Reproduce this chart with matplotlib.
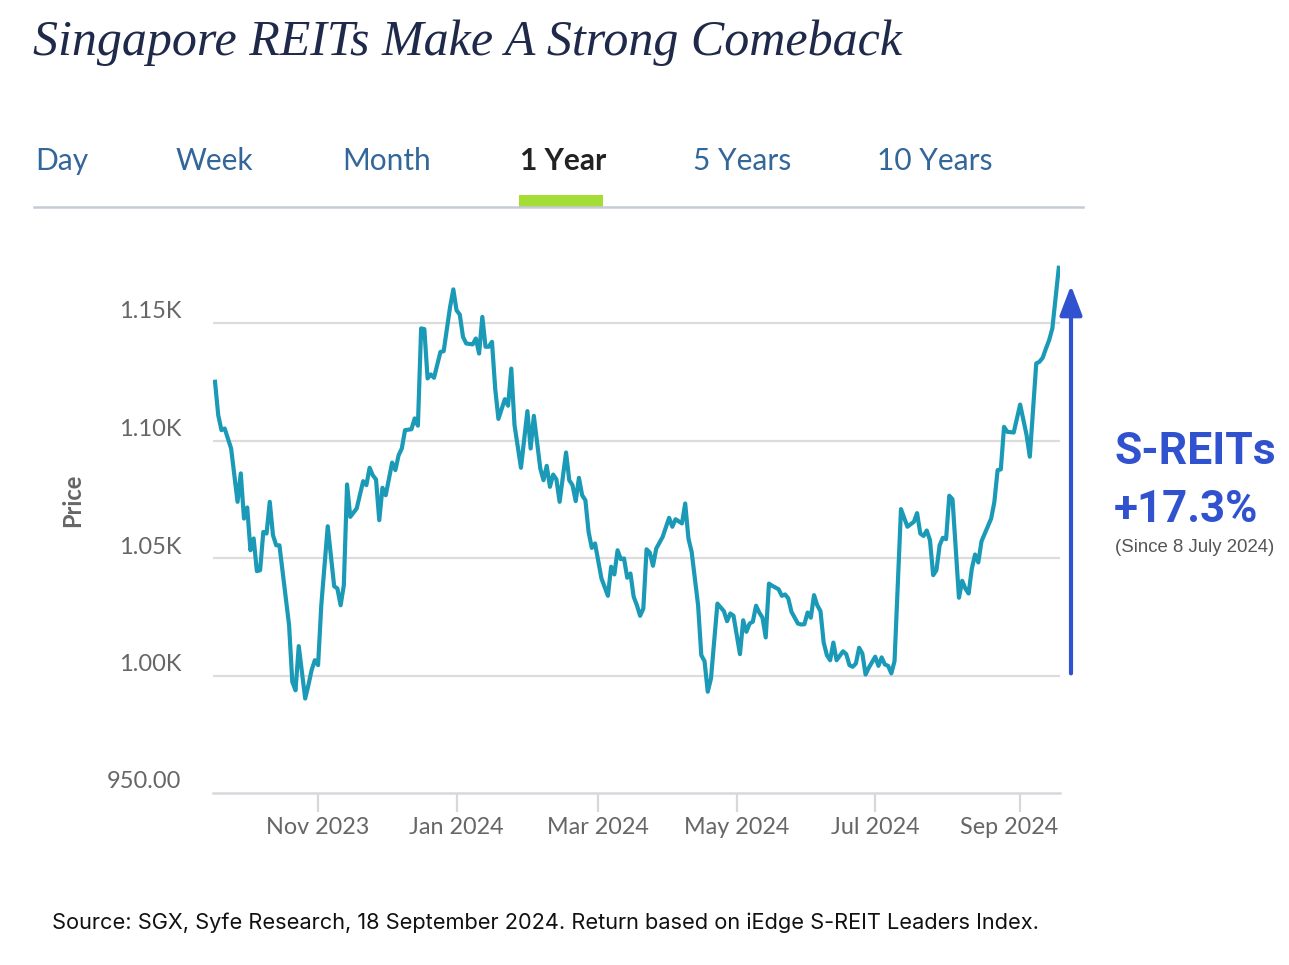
import numpy as np
import pandas as pd
import matplotlib
matplotlib.use('Agg')
import matplotlib.pyplot as plt
from matplotlib.transforms import ScaledTranslation, blended_transform_factory

# iEdge S-REIT Leaders Index
dates = [
    '2023-09-18', '2023-09-19', '2023-09-20', '2023-09-21', '2023-09-25', '2023-09-27', '2023-09-28', '2023-09-29',
    '2023-10-02', '2023-10-03', '2023-10-04', '2023-10-05', '2023-10-06', '2023-10-09', '2023-10-10', '2023-10-11',
    '2023-10-12', '2023-10-13', '2023-10-16', '2023-10-18', '2023-10-19', '2023-10-20', '2023-10-23', '2023-10-24',
    '2023-10-26', '2023-10-27', '2023-10-30', '2023-10-31', '2023-11-01', '2023-11-02', '2023-11-06', '2023-11-08',
    '2023-11-09', '2023-11-10', '2023-11-13', '2023-11-14', '2023-11-15', '2023-11-17', '2023-11-21', '2023-11-22',
    '2023-11-23', '2023-11-24', '2023-11-27', '2023-11-28', '2023-11-29', '2023-11-30', '2023-12-04', '2023-12-05',
    '2023-12-06', '2023-12-07', '2023-12-08', '2023-12-12', '2023-12-13', '2023-12-14', '2023-12-15', '2023-12-18',
    '2023-12-19', '2023-12-20', '2023-12-21', '2023-12-25', '2023-12-26', '2023-12-28', '2023-12-29', '2024-01-01',
    '2024-01-02', '2024-01-03', '2024-01-04', '2024-01-08', '2024-01-09', '2024-01-10', '2024-01-11', '2024-01-12',
    '2024-01-15', '2024-01-16', '2024-01-17', '2024-01-18', '2024-01-22', '2024-01-23', '2024-01-24', '2024-01-25',
    '2024-01-29', '2024-01-31', '2024-02-01', '2024-02-02', '2024-02-06', '2024-02-07', '2024-02-08', '2024-02-09',
    '2024-02-12', '2024-02-13', '2024-02-14', '2024-02-16', '2024-02-19', '2024-02-20', '2024-02-21', '2024-02-22',
    '2024-02-23', '2024-02-26', '2024-02-27', '2024-02-28', '2024-02-29', '2024-03-04', '2024-03-06', '2024-03-07',
    '2024-03-08', '2024-03-11', '2024-03-12', '2024-03-13', '2024-03-14', '2024-03-15', '2024-03-18', '2024-03-19',
    '2024-03-20', '2024-03-21', '2024-03-22', '2024-03-25', '2024-03-26', '2024-03-27', '2024-03-29', '2024-04-02',
    '2024-04-03', '2024-04-04', '2024-04-08', '2024-04-09', '2024-04-10', '2024-04-11', '2024-04-15', '2024-04-16',
    '2024-04-17', '2024-04-18', '2024-04-19', '2024-04-23', '2024-04-25', '2024-04-26', '2024-04-29', '2024-04-30',
    '2024-05-02', '2024-05-03', '2024-05-06', '2024-05-07', '2024-05-08', '2024-05-09', '2024-05-10', '2024-05-13',
    '2024-05-14', '2024-05-15', '2024-05-16', '2024-05-20', '2024-05-21', '2024-05-22', '2024-05-23', '2024-05-24',
    '2024-05-28', '2024-05-29', '2024-05-30', '2024-05-31', '2024-06-03', '2024-06-04', '2024-06-05', '2024-06-06',
    '2024-06-07', '2024-06-10', '2024-06-11', '2024-06-12', '2024-06-13', '2024-06-17', '2024-06-18', '2024-06-19',
    '2024-06-20', '2024-06-21', '2024-06-24', '2024-06-25', '2024-06-26', '2024-06-27', '2024-07-01', '2024-07-02',
    '2024-07-03', '2024-07-04', '2024-07-05', '2024-07-08', '2024-07-09', '2024-07-11', '2024-07-15', '2024-07-17',
    '2024-07-18', '2024-07-19', '2024-07-22', '2024-07-23', '2024-07-24', '2024-07-25', '2024-07-26', '2024-07-29',
    '2024-07-30', '2024-07-31', '2024-08-01', '2024-08-02', '2024-08-05', '2024-08-06', '2024-08-07', '2024-08-08',
    '2024-08-09', '2024-08-12', '2024-08-13', '2024-08-14', '2024-08-15', '2024-08-20', '2024-08-21', '2024-08-22',
    '2024-08-23', '2024-08-26', '2024-08-27', '2024-08-29', '2024-08-30', '2024-09-02', '2024-09-04', '2024-09-05',
    '2024-09-09', '2024-09-10', '2024-09-11', '2024-09-12', '2024-09-13', '2024-09-16', '2024-09-18',
]
prices = [
    1125.0, 1110.8, 1104.4, 1105.1, 1096.6, 1073.9, 1086.0, 1066.8,
    1071.5, 1053.3, 1058.3, 1044.4, 1044.8, 1061.1, 1060.4, 1073.9,
    1059.7, 1055.4, 1055.4, 1032.8, 1021.4, 997.3, 993.7, 1012.5,
    990.2, 995.9, 1002.3, 1006.5, 1004.4, 1029.9, 1063.5, 1038.0,
    1037.0, 1029.9, 1038.4, 1081.3, 1067.5, 1071.1, 1082.7, 1081.0,
    1088.4, 1085.2, 1083.4, 1066.1, 1079.9, 1076.7, 1090.6, 1087.4,
    1093.7, 1096.6, 1104.4, 1104.8, 1109.4, 1106.3, 1147.7, 1147.4,
    1126.4, 1128.1, 1126.7, 1137.7, 1138.0, 1156.9, 1164.3, 1155.4,
    1153.6, 1144.1, 1141.3, 1140.9, 1143.4, 1137.0, 1152.6, 1139.9,
    1139.9, 1142.0, 1122.1, 1109.2, 1117.6, 1114.8, 1130.6, 1106.5,
    1088.4, 1112.5, 1096.6, 1110.5, 1088.1, 1083.1, 1089.2, 1080.3,
    1085.5, 1083.5, 1073.9, 1094.9, 1083.1, 1081.0, 1074.2, 1084.1,
    1076.7, 1074.6, 1061.1, 1054.3, 1056.2, 1041.3, 1033.9, 1046.3,
    1043.0, 1053.3, 1049.5, 1049.8, 1041.6, 1043.4, 1033.5, 1029.9,
    1025.4, 1028.5, 1053.7, 1052.3, 1046.7, 1054.0, 1059.0, 1067.1,
    1063.3, 1066.5, 1064.7, 1073.2, 1058.3, 1052.6, 1029.9, 1008.6,
    1006.1, 993.1, 998.7, 1030.6, 1027.4, 1023.1, 1026.4, 1025.4,
    1009.1, 1023.5, 1018.6, 1022.1, 1022.9, 1029.7, 1026.8, 1024.6,
    1016.2, 1039.1, 1038.2, 1036.7, 1033.9, 1034.5, 1032.8, 1027.1,
    1022.1, 1021.7, 1021.8, 1026.8, 1024.6, 1034.2, 1029.9, 1027.4,
    1014.0, 1008.6, 1006.5, 1014.0, 1006.5, 1010.3, 1009.1, 1004.4,
    1003.7, 1005.1, 1011.8, 1009.4, 1000.4, 1003.3, 1008.0, 1004.1,
    1007.7, 1004.7, 1004.1, 1000.9, 1006.1, 1070.8, 1063.3, 1065.4,
    1069.1, 1060.4, 1059.4, 1061.7, 1057.6, 1042.7, 1044.8, 1055.4,
    1058.6, 1058.0, 1076.5, 1075.0, 1054.0, 1033.1, 1040.3, 1037.0,
    1034.9, 1045.5, 1051.5, 1048.1, 1057.1, 1066.8, 1073.9, 1087.4,
    1087.7, 1105.8, 1103.7, 1103.4, 1109.4, 1115.3, 1102.3, 1093.1,
    1132.8, 1133.5, 1135.2, 1139.1, 1142.7, 1147.7, 1173.5,
]

tick_dates = ['2023-11-01', '2024-01-01', '2024-03-01', '2024-05-01', '2024-07-01', '2024-09-02']
tick_labels = ['Nov 2023', 'Jan 2024', 'Mar 2024', 'May 2024', 'Jul 2024', 'Sep 2024']
y_ticks = [950, 1000, 1050, 1100, 1150]
y_labels = ['950.00', '1.00K', '1.05K', '1.10K', '1.15K']
tabs = ['Day', 'Week', 'Month', '1 Year', '5 Years', '10 Years']
tab_x = [35, 176, 342, 520, 693, 877]   # left edge in px
base_date = '2024-07-08'

start = dates[0]
# trading-day axis (weekends removed)
x = np.busday_count(start, np.array(dates, dtype='datetime64[D]'))
xt = np.busday_count(start, np.array(tick_dates, dtype='datetime64[D]'))

W, H = 1289, 965
fig = plt.figure(figsize=(W / 100, H / 100), dpi=100)
fig.patch.set_facecolor('white')

def fx(px):
    return px / W

def fy(py):
    return 1 - py / H

ax = fig.add_axes([fx(213.4), fy(793), fx(1060.4) - fx(213.4), fy(252.5) - fy(793)])
ax.plot(x, prices, color='#1a9ab6', lw=3.0, solid_joinstyle='round', zorder=3)
ax.set_xlim(-0.5, 262.5)
ax.set_ylim(950, 1180)

for s in ['top', 'right', 'left']:
    ax.spines[s].set_visible(False)
ax.spines['bottom'].set_color('#d6d8dc')
ax.spines['bottom'].set_linewidth(1.8)

ax.set_yticks(y_ticks)
ax.set_yticklabels(y_labels, fontsize=17, color='#666666', family='Lato')
ax.tick_params(axis='y', length=0, pad=23)
for lbl in ax.get_yticklabels():
    lbl.set_transform(lbl.get_transform() + ScaledTranslation(0, 0.13, fig.dpi_scale_trans))
for v in y_ticks[1:]:
    ax.axhline(v, color='#dcdcdc', lw=1.6, zorder=1)

ax.set_xticks(xt)
ax.set_xticklabels(tick_labels, fontsize=16.8, color='#666666', family='Lato')
ax.tick_params(axis='x', length=14, width=1.6, color='#d6d8dc', pad=3)
# last label is pulled left to stay inside the plot, as in the original
last = ax.get_xticklabels()[-1]
last.set_transform(last.get_transform() + ScaledTranslation(-0.11, 0, fig.dpi_scale_trans))

fig.text(fx(73), fy(500), 'Price', rotation=90, fontsize=17, fontweight='bold',
         color='#666666', family='Lato', ha='center', va='center')

# arrow showing the rally since 8 July
trans = blended_transform_factory(fig.transFigure, ax.transData)
base_val = prices[dates.index(base_date)]
ax.annotate('', xy=(fx(1071), 1166), xycoords=trans,
            xytext=(fx(1071), base_val), textcoords=trans,
            arrowprops=dict(arrowstyle='-|>,head_length=1.0,head_width=0.38', color='#3152cf',
                            lw=3, mutation_scale=18, shrinkA=0, shrinkB=0),
            annotation_clip=False)
fig.text(fx(1114), fy(452), 'S-REITs', fontsize=32, fontweight='bold', color='#3152cf',
         family='Roboto', va='center', ha='left')
fig.text(fx(1114), fy(510), '+17.3%', fontsize=31.5, fontweight='bold', color='#3152cf',
         family='Roboto', va='center', ha='left')
fig.text(fx(1115), fy(548), '(Since 8 July 2024)', fontsize=13.4, color='#555555',
         family='Liberation Sans', va='center', ha='left')

# title and tab bar
fig.text(fx(33), fy(43), 'Singapore REITs Make A Strong Comeback', fontsize=36, style='italic',
         color='#1f2a4a', family='Liberation Serif', va='center', ha='left')
for t, px in zip(tabs, tab_x):
    sel = t == '1 Year'
    fig.text(fx(px), fy(161), t, fontsize=21.5, family='Lato', va='center', ha='left',
             color='#222222' if sel else '#336699', fontweight='bold' if sel else 'normal')
fig.add_artist(plt.Line2D([fx(34), fx(1083)], [fy(207), fy(207)], color='#c5cad8', lw=1.8))
fig.add_artist(plt.Rectangle((fx(519), fy(207)), fx(603) - fx(519), fy(195) - fy(207),
                             color='#a3dd36', lw=0))

fig.text(fx(52), fy(923), 'Source: SGX, Syfe Research, 18 September 2024. Return based on iEdge S-REIT Leaders Index.',
         fontsize=15.7, color='#111111', family='Inter', va='center', ha='left')

fig.savefig('out.png', dpi=100, facecolor='white')
